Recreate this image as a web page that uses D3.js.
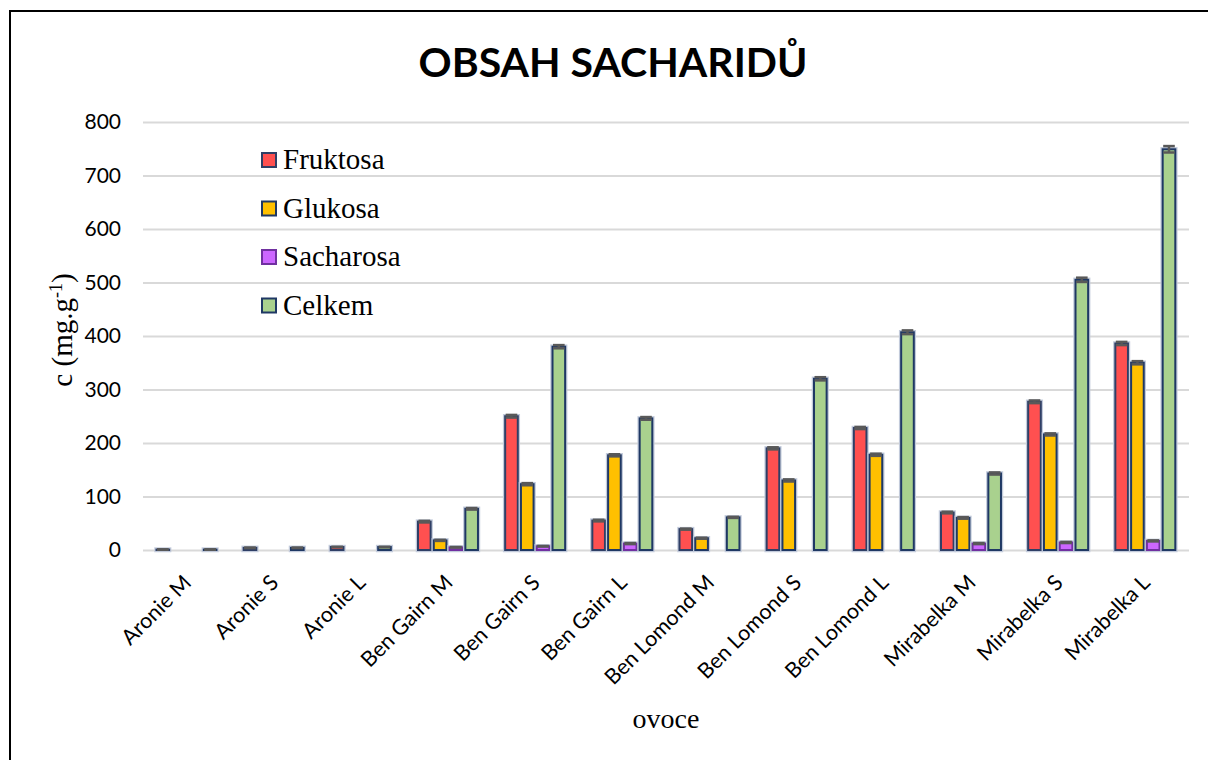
<!DOCTYPE html>
<html>
<head>
<meta charset="utf-8">
<script src="https://cdn.jsdelivr.net/npm/d3@7"></script>
<style>
  html, body { margin: 0; padding: 0; background: #fff; }
  svg { display: block; }
</style>
</head>
<body>
<svg id="chart" width="1208" height="760"></svg>
<script>
// Sugar content per fruit sample (mg per g)
const categories = ["Aronie M", "Aronie S", "Aronie L", "Ben Gairn M", "Ben Gairn S", "Ben Gairn L",
  "Ben Lomond M", "Ben Lomond S", "Ben Lomond L", "Mirabelka M", "Mirabelka S", "Mirabelka L"];
const seriesNames = ["Fruktosa", "Glukosa", "Sacharosa", "Celkem"];
const fruktosa  = [0.8, 4, 5.5, 53, 250, 55, 39, 190, 228, 70, 277, 386];
const glukosa   = [0, 0, 0, 18, 123, 177, 22, 130, 178, 60, 216, 350];
const sacharosa = [0, 0, 0, 5, 7, 12, 0, 0, 0, 12, 14, 17];
const celkem    = [0.8, 4, 5.5, 77, 380, 246, 61, 320, 407, 143, 505, 749];
// standard deviations
const errFruktosa  = [0.3, 0.5, 0.5, 1.5, 2.5, 1.5, 1, 2, 2, 1.5, 2.5, 3];
const errGlukosa   = [0, 0, 0, 1, 2, 2, 1, 2, 2, 1.5, 2, 3];
const errSacharosa = [0, 0, 0, 0.5, 0.5, 1, 0, 0, 0, 1, 1, 1];
const errCelkem    = [0.3, 0.5, 0.5, 1.5, 3, 2.5, 1, 3, 3.5, 2, 4, 6];
const yTicks = [0, 100, 200, 300, 400, 500, 600, 700, 800];

const values = [fruktosa, glukosa, sacharosa, celkem];
const errors = [errFruktosa, errGlukosa, errSacharosa, errCelkem];
const fills   = ["#ff5050", "#ffc000", "#cc66ff", "#a9d18e"];
const strokes = ["#2f3f66", "#1f3864", "#7030a0", "#1f3864"];

const svg = d3.select("#chart");

// outer frame
svg.append("rect")
  .attr("x", 10).attr("y", 11).attr("width", 1400).attr("height", 1000)
  .attr("fill", "none").attr("stroke", "#000").attr("stroke-width", 2);

const plotLeft = 143, plotRight = 1189, plotTop = 122, plotBottom = 550;

const x0 = d3.scaleBand().domain(categories).range([plotLeft, plotRight]).paddingInner(0).paddingOuter(0);
const x1 = d3.scaleBand().domain(seriesNames).range([13.5, x0.bandwidth() - 13.7]).paddingInner(0.2).paddingOuter(0);
const y = d3.scaleLinear().domain([0, 800]).range([plotBottom, plotTop]);

// gridlines and tick labels
const yAxis = svg.append("g")
  .attr("transform", `translate(${plotLeft},0)`)
  .call(d3.axisLeft(y).tickValues(yTicks).tickSize(-(plotRight - plotLeft)).tickPadding(22));
yAxis.select(".domain").remove();
yAxis.selectAll(".tick line").attr("stroke", "#d9d9d9").attr("stroke-width", 2);
yAxis.selectAll(".tick text")
  .attr("fill", "#000").attr("font-family", "Lato, 'Open Sans', sans-serif").attr("font-size", 21);

// bars
seriesNames.forEach((s, si) => {
  const data = categories.map((c, ci) => ({ c, v: values[si][ci], e: errors[si][ci] })).filter(d => d.v > 0);
  const layer = svg.append("g");
  const bx = d => x0(d.c) + x1(s);
  // soft outer halo
  layer.selectAll("rect.halo").data(data).join("rect")
    .attr("class", "halo")
    .attr("x", bx).attr("y", d => y(d.v))
    .attr("width", x1.bandwidth()).attr("height", d => y(0) - y(d.v))
    .attr("fill", "none").attr("stroke", "#c3cbdb").attr("stroke-width", 4.5);
  layer.selectAll("rect.bar").data(data).join("rect")
    .attr("class", "bar")
    .attr("x", bx).attr("y", d => y(d.v))
    .attr("width", x1.bandwidth()).attr("height", d => y(0) - y(d.v))
    .attr("fill", fills[si]).attr("stroke", strokes[si]).attr("stroke-width", 2);
  // error bars
  const cx = d => bx(d) + x1.bandwidth() / 2;
  const hw = x1.bandwidth() / 2 - 0.5;
  const eb = layer.selectAll("g.err").data(data).join("g").attr("class", "err")
    .attr("stroke", "#595959").attr("stroke-width", 2.5);
  eb.append("line")
    .attr("x1", cx).attr("x2", cx)
    .attr("y1", d => y(d.v + d.e)).attr("y2", d => y(Math.max(0, d.v - d.e)));
  eb.append("line")
    .attr("x1", d => cx(d) - hw).attr("x2", d => cx(d) + hw)
    .attr("y1", d => y(d.v + d.e)).attr("y2", d => y(d.v + d.e));
  eb.append("line")
    .attr("x1", d => cx(d) - hw).attr("x2", d => cx(d) + hw)
    .attr("y1", d => y(Math.max(0, d.v - d.e))).attr("y2", d => y(Math.max(0, d.v - d.e)));
});

// category labels
svg.append("g").selectAll("text")
  .data(categories)
  .join("text")
  .attr("transform", d => `translate(${x0(d) + x0.bandwidth() / 2 + 6},${584}) rotate(-45)`)
  .attr("text-anchor", "end")
  .attr("font-family", "Lato, 'Open Sans', sans-serif")
  .attr("font-size", 21.5)
  .attr("fill", "#000")
  .text(d => d);

// title
svg.append("text")
  .attr("x", 613).attr("y", 77)
  .attr("text-anchor", "middle")
  .attr("font-family", "Lato, 'Open Sans', sans-serif")
  .attr("font-weight", "bold")
  .attr("font-size", 41)
  .attr("fill", "#000")
  .text("OBSAH SACHARIDŮ");

// axis titles
svg.append("text")
  .attr("x", 666).attr("y", 728)
  .attr("text-anchor", "middle")
  .attr("font-family", "'Liberation Serif', 'Times New Roman', serif")
  .attr("font-size", 28)
  .attr("fill", "#000")
  .text("ovoce");

const yt = svg.append("text")
  .attr("transform", "translate(72,330) rotate(-90)")
  .attr("text-anchor", "middle")
  .attr("font-family", "'Liberation Serif', 'Times New Roman', serif")
  .attr("font-size", 29)
  .attr("fill", "#000");
yt.append("tspan").text("c (mg.g");
yt.append("tspan").attr("dy", -10).attr("font-size", 18).text("-1");
yt.append("tspan").attr("dy", 10).text(")");

// legend
const legend = svg.append("g").selectAll("g")
  .data(seriesNames)
  .join("g")
  .attr("transform", (d, i) => `translate(262,${160 + i * 48.5})`);
legend.append("rect")
  .attr("x", 0).attr("y", -7).attr("width", 14).attr("height", 14)
  .attr("fill", (d, i) => fills[i]).attr("stroke", (d, i) => strokes[i]).attr("stroke-width", 2);
legend.append("text")
  .attr("x", 21).attr("y", 9)
  .attr("font-family", "'Liberation Serif', 'Times New Roman', serif")
  .attr("font-size", 29)
  .attr("fill", "#000")
  .text(d => d);
</script>
</body>
</html>
